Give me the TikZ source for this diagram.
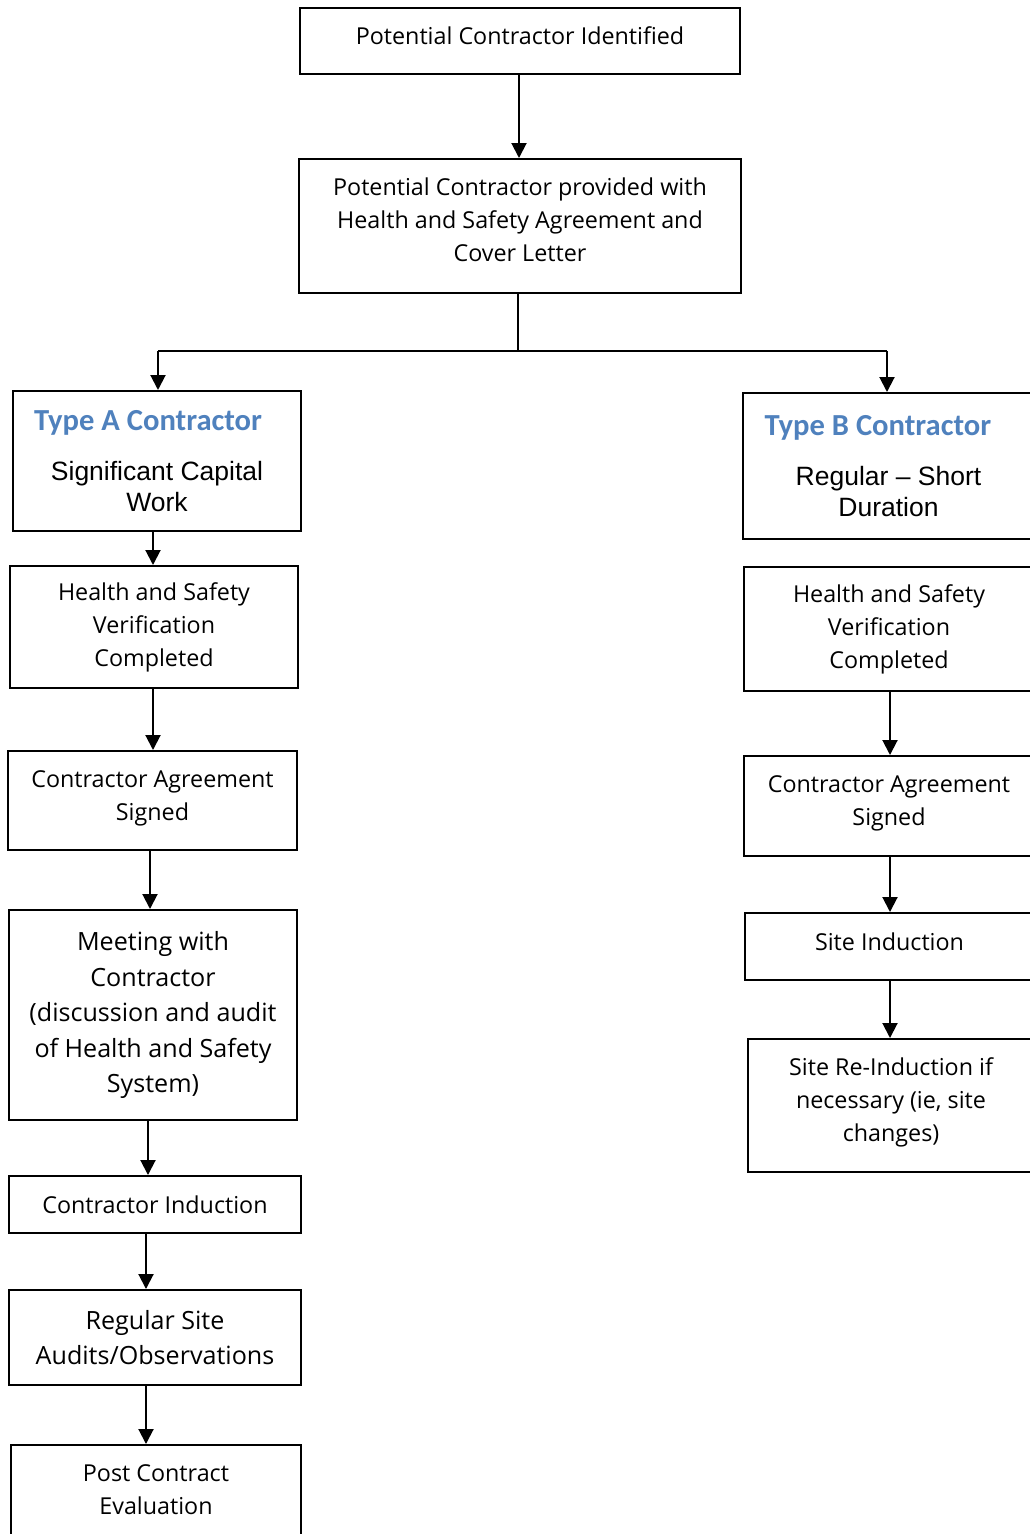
\documentclass[tikz,border=0pt]{standalone}
\usepackage{fontspec}
\setmainfont{Open Sans}
\newfontfamily\titlefam{Carlito}
\newfontfamily\arialfam{Liberation Sans}
\usetikzlibrary{arrows.meta}
\definecolor{typeblue}{RGB}{79,129,189}
\newcommand{\osn}{\fontsize{23.3}{33}\selectfont}
\newcommand{\osl}{\fontsize{25.1}{35.5}\selectfont}
\newcommand{\ttl}{\titlefam\bfseries\fontsize{30.6}{36}\selectfont\color{typeblue}}
\newcommand{\arl}{\normalfont\arialfam\fontsize{26.5}{31}\selectfont\color{black}}
\newcommand{\dn}[1]{\rule[-#1]{0pt}{#1}}
\begin{document}
\begin{tikzpicture}[x=1pt,y=-1pt,
  fbox/.style={draw, line width=2pt, inner sep=0pt, align=center, font=\osn},
  arr/.style={line width=2pt, -{Triangle[width=15pt,length=15pt]}},
  conn/.style={line width=2pt}]
\useasboundingbox (0,0) rectangle (1030,1534);
% top
\node[fbox, minimum width=440pt, minimum height=66pt] (n1) at (520,41) {Potential Contractor Identified\dn{10pt}};
\node[fbox, minimum width=442pt, minimum height=134pt] (n2) at (520,226) {Potential Contractor provided with\\Health and Safety Agreement and\\Cover Letter\dn{13pt}};
% left column
\node[fbox, minimum width=288pt, minimum height=140pt] (ta) at (157,461)
  {\parbox{262pt}{\ttl\hspace*{8pt}Type A Contractor\par\vspace{19.5pt}\centering\arl Significant Capital\\Work\par}};
\node[fbox, minimum width=288pt, minimum height=122pt] (hsa) at (154,627) {Health and Safety\\Verification\\Completed};
\node[fbox, minimum width=289pt, minimum height=99pt] (aga) at (152.5,800.5) {Contractor Agreement\\Signed\dn{10.6pt}};
\node[fbox, font=\osl, minimum width=288pt, minimum height=210pt] (meet) at (153,1015) {Meeting with\\Contractor\\(discussion and audit\\of Health and Safety\\System)};
\node[fbox, minimum width=292pt, minimum height=57pt] (cind) at (155,1204.5) {Contractor Induction};
\node[fbox, font=\osl, minimum width=292pt, minimum height=95pt] (reg) at (155,1337.5) {Regular Site\\Audits/Observations};
\node[fbox, minimum width=290pt, minimum height=90pt] (post) at (156,1490) {Post Contract\\Evaluation};
% right column
\node[fbox, minimum width=291pt, minimum height=146pt] (tb) at (888.5,466)
  {\parbox{262pt}{\ttl\hspace*{7pt}Type B Contractor\par\vspace{19.5pt}\centering\arl Regular – Short\\Duration\par}};
\node[fbox, minimum width=290pt, minimum height=124pt] (hsb) at (889,629) {Health and Safety\\Verification\\Completed};
\node[fbox, minimum width=290pt, minimum height=100pt] (agb) at (889,806) {Contractor Agreement\\Signed\dn{11.6pt}};
\node[fbox, minimum width=289pt, minimum height=67pt] (sind) at (889.5,946.5) {Site Induction\dn{10pt}};
\node[fbox, minimum width=286pt, minimum height=133pt] (sre) at (891,1105.5) {Site Re-Induction if\\necessary (ie, site\\changes)\dn{12.6pt}};
% connectors
\draw[arr] ([xshift=-1pt]n1.south) -- ([xshift=-1pt]n1.south |- n2.north);
\coordinate (j) at (518,351);
\coordinate (jl) at (158,351);
\coordinate (jr) at (887,351);
\draw[conn] ([xshift=-2pt]n2.south) -- (j);
\draw[conn] (jl) -- (jr);
\draw[arr] (jl) -- (jl |- ta.north);
\draw[arr] (jr) -- (jr |- tb.north);
\draw[arr] ([xshift=-4pt]ta.south) -- ([xshift=-4pt]ta.south |- hsa.north);
\draw[arr] ([xshift=-1pt]hsa.south) -- ([xshift=-1pt]hsa.south |- aga.north);
\draw[arr] ([xshift=-2.5pt]aga.south) -- ([xshift=-2.5pt]aga.south |- meet.north);
\draw[arr] ([xshift=-5pt]meet.south) -- ([xshift=-5pt]meet.south |- cind.north);
\draw[arr] ([xshift=-9pt]cind.south) -- ([xshift=-9pt]cind.south |- reg.north);
\draw[arr] ([xshift=-9pt]reg.south) -- ([xshift=-9pt]reg.south |- post.north);
\draw[arr] ([xshift=1pt]hsb.south) -- ([xshift=1pt]hsb.south |- agb.north);
\draw[arr] ([xshift=1pt]agb.south) -- ([xshift=1pt]agb.south |- sind.north);
\draw[arr] ([xshift=0.5pt]sind.south) -- ([xshift=0.5pt]sind.south |- sre.north);
\end{tikzpicture}
\end{document}
